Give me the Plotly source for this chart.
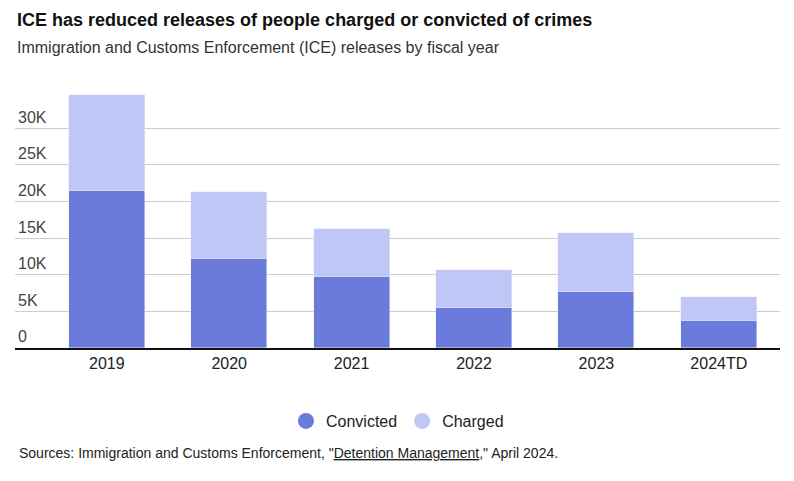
import plotly.graph_objects as go

years = ["2019", "2020", "2021", "2022", "2023", "2024TD"]
convicted = [21400, 12100, 9700, 5400, 7600, 3700]
total = [34500, 21300, 16200, 10600, 15700, 6900]
charged = [t - c for t, c in zip(total, convicted)]
xs = list(range(len(years)))

fig = go.Figure()
fig.add_trace(go.Bar(x=xs, y=convicted, name="Convicted", marker_color="#6b7bdb", width=0.62, showlegend=False))
fig.add_trace(go.Bar(x=xs, y=charged, name="Charged", marker_color="#c0c6f5", width=0.62, showlegend=False))
# circle legend markers
for name, col in [("Convicted", "#6b7bdb"), ("Charged", "#c0c6f5")]:
    fig.add_trace(go.Scatter(x=[None], y=[None], mode="markers", name=name,
                             marker=dict(symbol="circle", size=20, color=col)))

fig.update_layout(
    barmode="stack",
    width=786, height=473,
    margin=dict(l=7, r=14, t=83, b=133),
    plot_bgcolor="white", paper_bgcolor="white",
    font=dict(family="Liberation Sans, Arial, sans-serif", size=15, color="#222"),
    showlegend=True,
    legend=dict(orientation="h", x=0.5, xanchor="center", y=-0.284, yanchor="middle",
                font=dict(size=16), traceorder="normal"),
    bargap=0,
)
fig.update_xaxes(range=[-0.75, 5.5], tickvals=xs, ticktext=years, showline=True,
                 linecolor="#111", linewidth=2, ticks="", tickfont=dict(size=16))
fig.update_yaxes(range=[0, 35080], tickvals=[0, 5000, 10000, 15000, 20000, 25000, 30000, 35000],
                 ticktext=["0", "5K", "10K", "15K", "20K", "25K", "30K", "35K"],
                 ticklabelposition="inside top", gridcolor="#cccccc", zeroline=False,
                 tickfont=dict(size=16))

fig.add_annotation(text="<b>ICE has reduced releases of people charged or convicted of crimes</b>",
                   xref="paper", yref="paper", x=0, y=1.276, xanchor="left", yanchor="middle",
                   showarrow=False, font=dict(size=18, color="#111"))
fig.add_annotation(text="Immigration and Customs Enforcement (ICE) releases by fiscal year",
                   xref="paper", yref="paper", x=0, y=1.171, xanchor="left", yanchor="middle",
                   showarrow=False, font=dict(size=16, color="#333"))
fig.add_annotation(text='Sources: Immigration and Customs Enforcement, "<span style="text-decoration:underline">Detention Management</span>," April 2024.',
                   xref="paper", yref="paper", x=0.002, y=-0.409, xanchor="left", yanchor="middle",
                   showarrow=False, font=dict(size=14, color="#222"))

fig.write_html("out.html")
